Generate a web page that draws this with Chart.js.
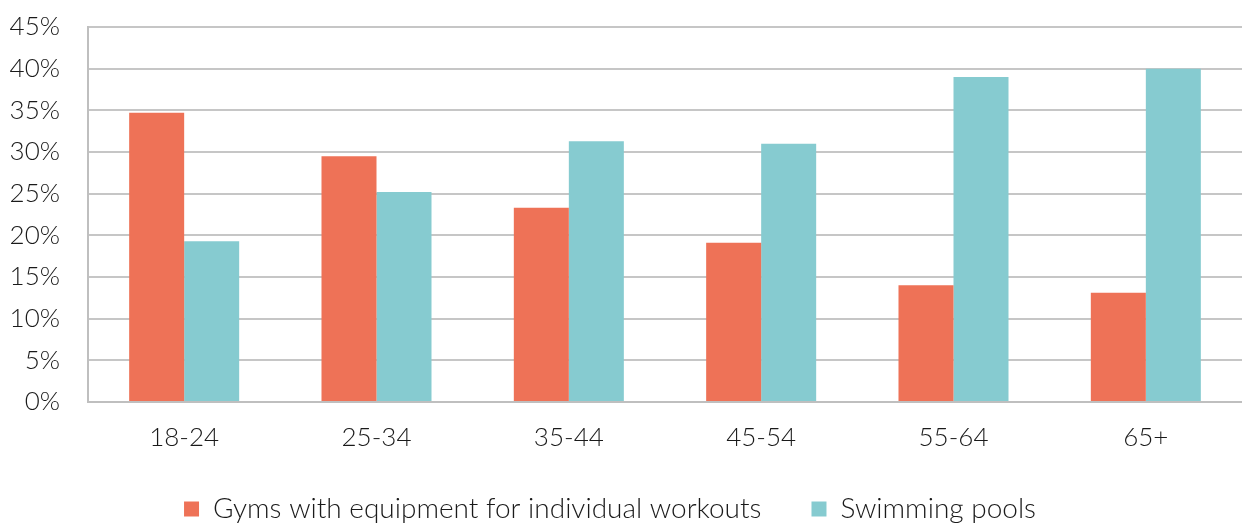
<!DOCTYPE html>
<html>
<head>
<meta charset="utf-8">
<script src="https://cdn.jsdelivr.net/npm/chart.js@4"></script>
<style>
  html, body { margin: 0; padding: 0; background: #fff; }
  #wrap { width: 1242px; height: 523px; }
</style>
</head>
<body>
<div id="wrap"><canvas id="bars" width="1242" height="523"></canvas></div>
<script>
const ageGroups = ["18-24", "25-34", "35-44", "45-54", "55-64", "65+"];
const gyms = [34.7, 29.5, 23.3, 19.1, 14.0, 13.1];
const pools = [19.3, 25.2, 31.3, 31.0, 39.0, 40.0];

const ctx = document.getElementById("bars");

// legend sits a bit higher and further left than chart.js would put it
const nudgeLegend = {
  id: "nudgeLegend",
  afterLayout(c) {
    c.legend.top -= 9;
    c.legend.height += 9;
    c.legend.right -= 22;
    c.legend.width -= 22;
  }
};

const chart = new Chart(ctx, {
  type: "bar",
  data: {
    labels: ageGroups,
    datasets: [
      { label: "Gyms with equipment for individual workouts", data: gyms, backgroundColor: "#EE7257" },
      { label: "Swimming pools", data: pools, backgroundColor: "#86CBD0" }
    ]
  },
  options: {
    responsive: false,
    animation: false,
    layout: { padding: 0 },
    datasets: { bar: { categoryPercentage: 0.572, barPercentage: 1.0 } },
    plugins: {
      tooltip: { enabled: false },
      legend: {
        position: "bottom",
        maxHeight: 69,
        labels: {
          boxWidth: 15, boxHeight: 15, padding: 50,
          color: "#1a1a1a", font: { family: "Lato", size: 28, weight: "300" }
        }
      }
    },
    scales: {
      x: {
        grid: { display: false, drawTicks: false },
        border: { color: "#BFBFBF", width: 2 },
        ticks: { color: "#1a1a1a", padding: 20, font: { family: "Lato", size: 26, weight: "300" } },
        afterFit: s => { s.height = 52; }
      },
      y: {
        min: 0, max: 45,
        grid: { color: "#C6C6C6", lineWidth: 2, drawTicks: false },
        border: { color: "#BFBFBF", width: 2 },
        ticks: {
          stepSize: 5, padding: 28, color: "#1a1a1a",
          font: { family: "Lato", size: 26, weight: "300" },
          callback: v => v + "%"
        },
        afterFit: s => { s.width = 88; s.paddingTop = 27; s.paddingBottom = 0; }
      }
    }
  },
  plugins: [nudgeLegend]
});
</script>
</body>
</html>
